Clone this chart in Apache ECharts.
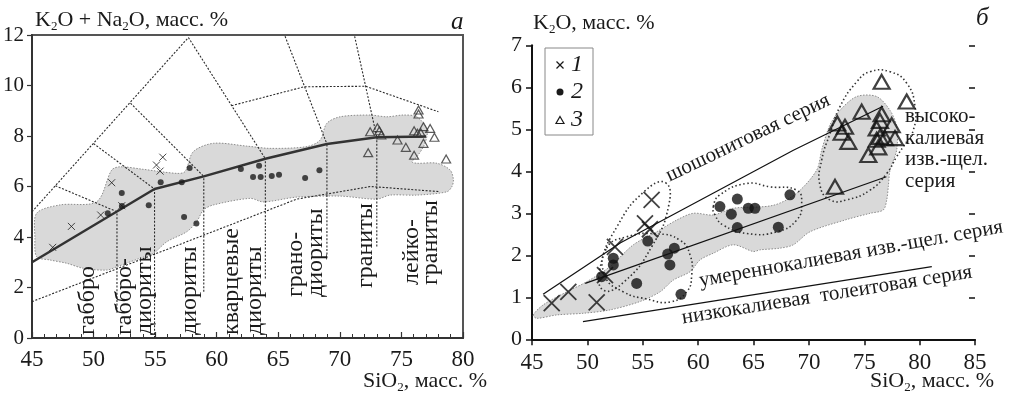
<!DOCTYPE html>
<html><head><meta charset="utf-8">
<script src="https://cdn.jsdelivr.net/npm/echarts@6/dist/echarts.min.js"></script>
<style>html,body{margin:0;padding:0;background:#fff}#c{width:1020px;height:395px}</style>
</head><body><div id="c"></div>
<script>
// ---------- tick values ----------
const leftXTicks = [45, 50, 55, 60, 65, 70, 75, 80];
const leftYTicks = [0, 2, 4, 6, 8, 10, 12];
const rightXTicks = [45, 50, 55, 60, 65, 70, 75, 80, 85];
const rightYTicks = [0, 1, 2, 3, 4, 5, 6, 7];

// ---------- panel a: K2O+Na2O vs SiO2 ----------
const leftCrosses = [[46.68,3.59],[48.2,4.42],[50.58,4.87],[51.47,6.15],[52.29,5.24],[55.11,6.85],[55.4,6.61],[55.62,7.16]];
const leftDots = [[51.15,4.94],[52.3,5.23],[52.29,5.74],[54.48,5.26],[55.45,6.17],[57.16,6.17],[57.8,6.73],[57.35,4.79],[58.35,4.53],
  [61.96,6.69],[63.44,6.82],[62.95,6.38],[63.57,6.38],[64.47,6.42],[65.06,6.47],[67.18,6.34],[68.34,6.64]];
const leftTriangles = [[76.39,9.03],[76.39,8.87],[72.46,8.17],[73.05,8.33],[73.21,8.21],[73.37,8.04],[74.68,7.84],[75.36,7.55],[72.3,7.34],
  [76.03,8.21],[76.3,8.11],[76.57,8.13],[76.79,8.37],[77.33,8.3],[77.68,7.95],[76.79,7.71],[76.03,7.24],[78.63,7.09]];
const leftTrend = [[45,3.0],[54.95,5.9],[58.95,6.4],[63.95,7.1],[68.95,7.68],[73.0,7.95],[77.0,7.98]];
const leftRegion = [[45.38,4.94],[47.27,5.27],[50.26,5.4],[51.47,6.65],[52.15,6.78],[54.04,6.68],[56.75,6.52],[57.43,6.59],[58.1,7.38],
  [59.73,7.71],[62.44,7.6],[64.33,7.51],[67.32,7.58],[68.4,7.84],[68.94,8.5],[70.02,8.76],[72.46,8.83],[73.81,8.76],[75.16,8.83],
  [76.25,8.76],[77.06,8.3],[77.06,7.97],[76.79,7.58],[76.25,7.18],[75.85,6.98],[76.25,6.92],[77.88,6.92],[78.96,6.65],[79.22,6.26],
  [79.09,5.99],[78.69,5.79],[76.25,5.66],[74.08,5.66],[73.0,5.5],[70.02,5.62],[66.5,5.58],[63.79,5.39],[62.71,5.53],[59.73,5.27],
  [58.92,5.07],[58.38,4.61],[57.57,4.21],[55.94,3.81],[54.85,3.35],[53.77,3.16],[51.88,2.82],[51.07,2.69],[49.17,2.76],[47.82,2.96],
  [46.46,3.09],[45.38,3.22],[45.24,3.95]];
const fieldLineA = [[45,5.0],[57.7,11.9]];
const fieldLineB = [[46.9,6.03],[51.9,5.0]];
const fieldLineC = [[50.0,7.7],[54.95,5.9]];
const fieldLineD = [[53.0,9.3],[58.95,6.4]];
const fieldLineE = [[57.7,11.9],[63.95,7.1]];
const fieldLineF = [[61.2,9.2],[67.1,9.95],[72.1,9.97],[78.0,8.96]];
const fieldLineG = [[65.55,11.95],[68.95,7.68]];
const fieldLineH = [[71.2,11.95],[73.0,7.95]];
const fieldLineI = [[45,1.44],[66.5,5.5],[72.5,6.0],[78,5.8]];
const boundary1 = [[51.9,1.0],[51.9,5.0]];
const boundary2 = [[54.95,0],[54.95,5.9]];
const boundary3 = [[58.95,1.83],[58.95,6.4]];
const boundary4 = [[63.95,2.36],[63.95,7.1]];
const boundary5 = [[68.95,3.16],[68.95,7.68]];
const boundary6 = [[73.0,3.62],[73.0,7.95]];

// ---------- panel б: K2O vs SiO2 ----------
const rightCrosses = [[46.78,0.86],[48.28,1.13],[50.84,0.88],[51.59,1.53],[52.49,2.2],[55.2,2.76],[55.65,2.62],[55.8,3.32]];
const rightDots = [[51.29,1.49],[52.34,1.93],[52.34,1.77],[54.45,1.33],[55.45,2.34],[57.25,2.03],[57.85,2.17],[57.45,1.77],[58.45,1.07],
  [61.97,3.16],[63.54,3.34],[63.0,2.98],[63.54,2.66],[64.53,3.12],[65.13,3.12],[68.29,3.44],[67.24,2.67]];
const rightTriangles = [[76.57,6.13],[78.83,5.66],[74.77,5.42],[72.57,5.14],[73.26,5.06],[72.96,4.92],[73.56,4.7],[76.57,5.36],[76.42,5.2],
  [76.12,5.02],[77.48,5.1],[76.42,4.82],[76.87,4.79],[76.12,4.75],[77.78,4.79],[76.27,4.57],[75.37,4.39],[72.36,3.63]];
const lineShoshonite = [[46.0,1.07],[53.0,2.3],[68.6,4.5],[76.7,5.55]];
const lineHighK = [[49.8,1.33],[77.0,3.87]];
const lineLowK = [[49.6,0.42],[81.1,1.73]];
const rightRegion = [[45.12,0.58],[46.02,0.82],[48.13,1.13],[49.94,1.37],[52.04,1.73],[54.15,2.25],[56.26,2.56],[58.07,2.84],[59.56,3.0],
  [61.37,2.96],[63.18,3.12],[66.79,3.19],[68.9,3.48],[70.71,4.03],[71.16,4.51],[71.9,5.1],[72.8,5.45],[74.32,5.78],[76.12,5.78],
  [77.33,5.45],[77.93,5.06],[77.93,4.51],[77.33,4.03],[77.17,3.63],[77.03,3.32],[76.72,3.08],[75.52,3.0],[73.26,2.84],[70.1,2.56],
  [68.59,2.25],[67.38,2.17],[65.59,2.13],[64.98,2.09],[63.18,2.25],[61.37,2.05],[60.17,1.89],[59.27,1.61],[57.76,1.41],[56.56,1.13],
  [54.75,0.9],[52.04,0.7],[49.63,0.62],[47.23,0.58],[45.42,0.5]];
const outlineCrosses = [[57.05,3.73],[57.34,3.18],[55.82,2.21],[53.37,1.38],[51.45,1.17],[51.17,1.72],[52.69,2.69],[55.14,3.52]];
const outlineDotsLow = [[51.74,2.17],[53.55,2.44],[56.26,2.51],[58.36,2.36],[59.27,2.01],[59.42,1.53],[58.97,1.13],[57.46,0.89],
  [55.36,0.96],[53.24,1.13],[51.59,1.51]];
const outlineDotsHigh = [[61.37,3.16],[61.97,3.44],[64.39,3.71],[66.49,3.63],[68.9,3.55],[69.35,3.24],[68.9,2.84],[67.1,2.56],
  [64.39,2.52],[62.27,2.72],[61.52,2.96]];
const outlineTriangles = [[75.52,6.37],[77.33,6.37],[78.83,6.1],[79.58,5.54],[79.43,4.98],[78.53,4.59],[77.93,4.35],[77.03,3.95],
  [75.52,3.55],[73.41,3.32],[71.91,3.32],[71.0,3.67],[71.16,4.27],[71.91,4.9],[72.81,5.54],[74.32,6.13]];

// ---------- build ----------
const FONT = '"Liberation Serif", "Times New Roman", serif';
const INK = '#1a1a1a';
const crossPath = 'path://M0,0L10,10M10,0L0,10';

function polySeries(points, ax, fill, stroke, dash, width, smooth, z) {
  return {
    type: 'custom', xAxisIndex: ax, yAxisIndex: ax, z: z, silent: true, clip: false,
    data: [points[0]],
    renderItem: function (params, api) {
      return { type: 'polygon', shape: { points: points.map(function (p) { return api.coord(p); }), smooth: smooth },
        style: { fill: fill, stroke: stroke, lineDash: dash, lineWidth: width } };
    }
  };
}
function lineSeries(points, ax, color, width, type, z) {
  return { type: 'line', xAxisIndex: ax, yAxisIndex: ax, data: points, symbol: 'none', silent: true, z: z,
    lineStyle: { color: color, width: width, type: type } };
}

const fieldDash = [2, 1.6];
const leftField = [fieldLineA, fieldLineB, fieldLineC, fieldLineD, fieldLineE, fieldLineF, fieldLineG, fieldLineH, fieldLineI,
  boundary1, boundary2, boundary3, boundary4, boundary5, boundary6];

function valueAxis(grid, ticks, extra) {
  const a = { gridIndex: grid, type: 'value', min: ticks[0], max: ticks[ticks.length - 1], interval: ticks[1] - ticks[0],
    splitLine: { show: false } };
  return Object.assign(a, extra);
}

const series = [];
series.push(polySeries(leftRegion, 0, '#d9d9d9', '#8c8c8c', [1.5, 1.5], 1, 0.3, 1));
leftField.forEach(function (l) { series.push(lineSeries(l, 0, '#2a2a2a', 1.1, fieldDash, 2)); });
series.push(lineSeries(leftTrend, 0, '#333', 2.5, 'solid', 3));
series.push({ type: 'scatter', xAxisIndex: 0, yAxisIndex: 0, data: leftCrosses, symbol: crossPath, symbolSize: 7, z: 5,
  itemStyle: { color: 'rgba(0,0,0,0)', borderColor: INK, borderWidth: 1 } });
series.push({ type: 'scatter', xAxisIndex: 0, yAxisIndex: 0, data: leftDots, symbol: 'circle', symbolSize: 6, z: 5,
  itemStyle: { color: INK } });
series.push({ type: 'scatter', xAxisIndex: 0, yAxisIndex: 0, data: leftTriangles, symbol: 'triangle', symbolSize: [9, 8], z: 5,
  itemStyle: { color: 'rgba(0,0,0,0)', borderColor: '#333', borderWidth: 1.2 } });

series.push(polySeries(rightRegion, 1, '#d9d9d9', '#8c8c8c', [1.5, 1.5], 1, 0.3, 1));
[outlineCrosses, outlineDotsLow, outlineDotsHigh, outlineTriangles].forEach(function (o) {
  series.push(polySeries(o, 1, 'none', '#333', [1.5, 2.5], 1.6, 0.5, 2));
});
[lineShoshonite, lineHighK, lineLowK].forEach(function (l) { series.push(lineSeries(l, 1, '#111', 1.2, 'solid', 3)); });
series.push({ type: 'scatter', xAxisIndex: 1, yAxisIndex: 1, data: rightCrosses, symbol: crossPath, symbolSize: 16, z: 5,
  itemStyle: { color: 'rgba(0,0,0,0)', borderColor: '#111', borderWidth: 1.8 } });
series.push({ type: 'scatter', xAxisIndex: 1, yAxisIndex: 1, data: rightDots, symbol: 'circle', symbolSize: 11, z: 5,
  itemStyle: { color: '#111' } });
series.push({ type: 'scatter', xAxisIndex: 1, yAxisIndex: 1, data: rightTriangles, symbol: 'triangle', symbolSize: [16, 14], z: 5,
  itemStyle: { color: 'rgba(0,0,0,0)', borderColor: '#111', borderWidth: 2.2 } });

const sub = { n: { fontSize: 22, fontFamily: FONT, fill: INK, lineHeight: 26 },
  s: { fontSize: 13, fontFamily: FONT, fill: INK, verticalAlign: 'bottom', lineHeight: 26 } };
function txt(x, y, text, opts) {
  return Object.assign({ type: 'text', x: x, y: y, silent: true, z: 100,
    style: Object.assign({ text: text, fontSize: 22, fontFamily: FONT, fill: INK, align: 'left', verticalAlign: 'middle' }, opts || {}) });
}
function vtxt(x, y, text, lh) {
  const t = txt(x, y, text, { fontSize: 24, lineHeight: lh || 20 });
  t.rotation = Math.PI / 2;
  return t;
}
function rtxt(x, y, text, deg) {
  const t = txt(x, y, text, { fontSize: 21, align: 'center' });
  t.rotation = deg * Math.PI / 180;
  return t;
}

const graphic = [
  txt(35, 20, '{n|K}{s|2}{n|O + Na}{s|2}{n|O, масс. %}', { rich: sub }),
  txt(363, 381, '{n|SiO}{s|2}{n|, масс. %}', { rich: sub }),
  txt(533, 23, '{n|K}{s|2}{n|O, масс. %}', { rich: sub }),
  txt(870, 381, '{n|SiO}{s|2}{n|, масс. %}', { rich: sub }),
  txt(451, 22, 'а', { fontStyle: 'italic', fontSize: 25 }),
  txt(976, 18, 'б', { fontStyle: 'italic', fontSize: 25 }),
  vtxt(88, 335, 'габбро'),
  vtxt(135, 335, 'габбро-\nдиориты'),
  vtxt(190, 335, 'диориты'),
  vtxt(243, 335, 'кварцевые\nдиориты', 23),
  vtxt(306, 297, 'грано-\nдиориты'),
  vtxt(366, 288, 'граниты'),
  vtxt(421, 285, 'лейко-\nграниты', 18.5),
  rtxt(748, 138, 'шошонитовая серия', 25.6),
  rtxt(851, 254, 'умереннокалиевая изв.-щел. серия', 10.1),
  rtxt(827, 295, 'низкокалиевая  толеитовая серия', 9),
  txt(905, 106, 'высоко-\nкалиевая\nизв.-щел.\nсерия', { fontSize: 21, lineHeight: 21.5, verticalAlign: 'top' }),
  // legend
  { type: 'rect', shape: { x: 545, y: 48, width: 48, height: 87 }, style: { fill: '#fff', stroke: '#888', lineWidth: 1 }, z: 90, silent: true },
  { type: 'polyline', shape: { points: [[556.5, 61.5], [563.5, 68.5]] }, style: { stroke: INK, lineWidth: 1.2 }, z: 100, silent: true },
  { type: 'polyline', shape: { points: [[563.5, 61.5], [556.5, 68.5]] }, style: { stroke: INK, lineWidth: 1.2 }, z: 100, silent: true },
  { type: 'circle', shape: { cx: 560, cy: 92, r: 3.5 }, style: { fill: INK }, z: 100, silent: true },
  { type: 'polygon', shape: { points: [[560, 116.5], [564, 123.5], [556, 123.5]] }, style: { fill: 'none', stroke: INK, lineWidth: 1.2 }, z: 100, silent: true },
  txt(571, 65, '1', { fontStyle: 'italic', fontSize: 24 }),
  txt(571, 92, '2', { fontStyle: 'italic', fontSize: 24 }),
  txt(571, 120, '3', { fontStyle: 'italic', fontSize: 24 })
];

const lbl = function (size, margin) { return { fontSize: size, fontFamily: FONT, color: INK, margin: margin }; };

const option = {
  animation: false,
  backgroundColor: '#fff',
  grid: [
    { left: 32, top: 35, width: 431, height: 303, show: true, borderColor: '#555', borderWidth: 2, backgroundColor: 'transparent', outerBoundsMode: 'none', containLabel: false },
    { left: 532, top: 45.3, width: 443, height: 294, outerBoundsMode: 'none', containLabel: false }
  ],
  xAxis: [
    valueAxis(0, leftXTicks, { axisLine: { onZero: false, lineStyle: { color: '#333', width: 2 } },
      axisTick: { inside: true, length: 6, lineStyle: { color: '#333', width: 1.2 } },
      minorTick: { show: true, splitNumber: 5, length: 4, lineStyle: { color: '#333', width: 1 } },
      axisLabel: lbl(23, 10) }),
    valueAxis(1, rightXTicks, { axisLine: { onZero: false, lineStyle: { color: '#111', width: 2 } },
      axisTick: { length: 6, lineStyle: { color: '#111', width: 1.5 } }, axisLabel: lbl(23, 12) }),
    valueAxis(1, rightXTicks, { axisLine: { show: false }, axisTick: { inside: true, length: 6, lineStyle: { color: '#111', width: 1.5 } },
      axisLabel: { show: false } })
  ],
  yAxis: [
    valueAxis(0, leftYTicks, { axisLine: { onZero: false, lineStyle: { color: '#333', width: 2 } },
      axisTick: { length: 5, lineStyle: { color: '#333', width: 1.2 } }, axisLabel: lbl(21, 8) }),
    valueAxis(1, rightYTicks, { axisLine: { onZero: false, lineStyle: { color: '#111', width: 2 } },
      axisTick: { length: 6, lineStyle: { color: '#111', width: 1.5 } }, axisLabel: lbl(22, 10) }),
    valueAxis(1, rightYTicks, { axisLine: { show: false }, axisTick: { inside: true, length: 6, lineStyle: { color: '#111', width: 1.5 } },
      axisLabel: { show: false } })
  ],
  series: series,
  graphic: graphic
};

const chart = echarts.init(document.getElementById('c'), null, { renderer: 'canvas' });
chart.setOption(option);
</script></body></html>
